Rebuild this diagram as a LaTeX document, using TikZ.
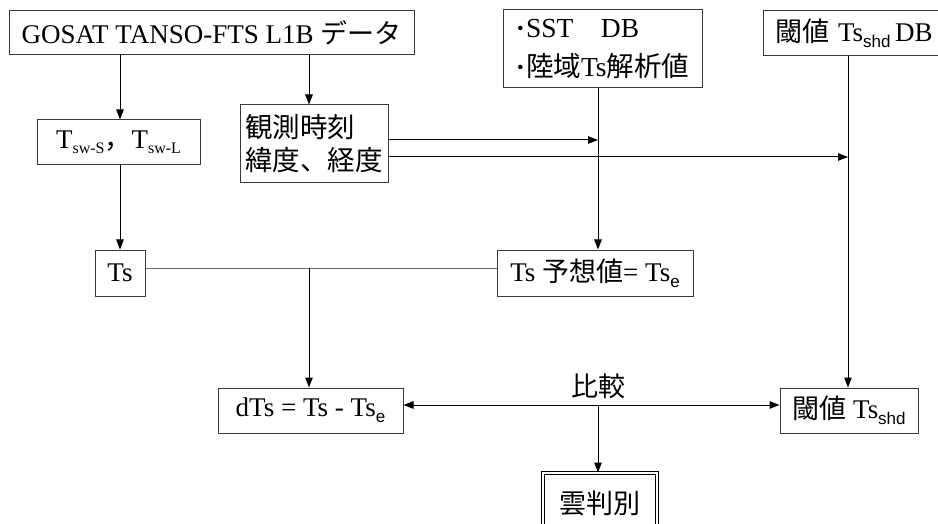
\documentclass[tikz,border=0pt]{standalone}
\usepackage{fontspec}
\setmainfont{Liberation Serif}
\newfontfamily\jp{Noto Sans CJK JP}
\newfontfamily\subsans{Liberation Sans}
\usetikzlibrary{arrows.meta}
\definecolor{boxc}{HTML}{3A3A3A}
\definecolor{greyline}{HTML}{6E6E6E}
\newcommand\sbsr[1]{\raisebox{-5pt}{\fontsize{16}{16}\selectfont #1}}
\newcommand\sbss[1]{\raisebox{-6pt}{\subsans\fontsize{17}{17}\selectfont #1}}
\newcommand\bul{\textbf{·}\hspace{1pt}}
\begin{document}
\begin{tikzpicture}[x=1pt,y=-1pt,
  box/.style={draw=boxc, line width=1pt, inner sep=0pt, font=\fontsize{27}{33}\selectfont},
  arr/.style={-{Triangle[length=10pt,width=7.5pt]}, line width=1pt},
  arrtwo/.style={{Triangle[length=10pt,width=7.5pt]}-{Triangle[length=10pt,width=7.5pt]}, line width=1pt},
  plain/.style={line width=1pt, draw=greyline}]
\clip (0,0) rectangle (938,524);
\fill[white] (0,0) rectangle (938,524);
% nodes
\node[box, minimum width=405, minimum height=44] (gosat) at (211.5,33) {GOSAT TANSO-FTS L1B {\jp データ}};
\node[box, minimum width=163, minimum height=45] (tsw) at (118.5,142.5) {T\sbsr{sw-S}{\jp ，}T\sbsr{sw-L}};
\node[box, minimum width=148, minimum height=78, align=left, font=\fontsize{27.5}{33}\selectfont] (obs) at (314,144) {{\jp 観測時刻}\\{\jp 緯度、経度}};
\node[box, minimum width=199, minimum height=78, align=left, font=\fontsize{27.5}{39}\selectfont] (sst) at (602.5,49) {\bul SST{\jp 　}DB\\\bul{\jp 陸域}Ts{\jp 解析値}};
\node[box, minimum width=200, minimum height=45, anchor=west, text width=185, align=left] (thrdb) at (763,33) {\hspace{4pt}{\jp 閾値} Ts\sbss{shd}\,DB};
\node[box, minimum width=50, minimum height=46] (ts) at (120,273) {Ts};
\node[box, minimum width=196, minimum height=46] (tse) at (595,273) {Ts {\jp 予想値}= Ts\sbss{e}};
\node[box, minimum width=185, minimum height=45] (dts) at (310.5,410.5) {dTs = Ts - Ts\sbss{e}};
\node[box, minimum width=138, minimum height=45] (thr) at (849,410.5) {{\jp 閾値} Ts\sbss{shd}};
\node[box, minimum width=114, minimum height=60, draw=black, double=white, double distance=2pt, line width=1pt] (cloud) at (600,503) {{\jp 雲判別}};
\node[font=\fontsize{27}{27}\selectfont, inner sep=0pt] (lbl) at (598,386) {\jp 比較};
% connectors
\coordinate (gx) at (309,0);
\coordinate (v1) at (598,140);
\coordinate (v2) at (848,157);
\coordinate (h) at (309,268);
\coordinate (cmp) at (598,405);
\draw[arr] (gosat.south -| ts.north) -- (tsw.north -| ts.north);
\draw[arr] (tsw.south -| ts.north) -- (ts.north);
\draw[arr] (gosat.south -| gx) -- (obs.north -| gx);
\draw[arr] (obs.east |- v1) -- (v1);
\draw[arr] (obs.east |- v2) -- (v2);
\draw[arr] (sst.south -| v1) -- (tse.north -| v1);
\draw[arr] (thrdb.south -| v2) -- (thr.north -| v2);
\draw[plain] (ts.east |- h) -- (tse.west |- h);
\draw[arr] (h) -- (dts.north -| h);
\draw[arrtwo] (dts.east |- cmp) -- (thr.west |- cmp);
\draw[arr] (cmp) -- (cloud.north -| cmp);
\end{tikzpicture}
\end{document}
